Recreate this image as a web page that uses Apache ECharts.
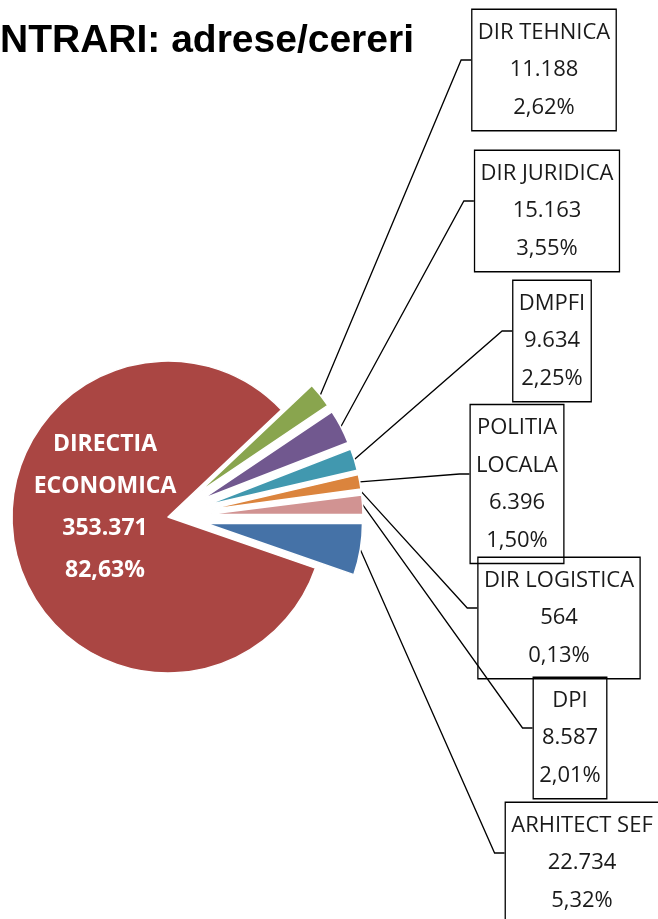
<!DOCTYPE html>
<html>
<head>
<meta charset="UTF-8">
<title>Intrari adrese/cereri</title>
<script src="https://cdn.jsdelivr.net/npm/echarts@6/dist/echarts.min.js"></script>
<style>
body{margin:0;padding:0;background:#fff;}
#main{width:658px;height:919px;}
</style>
</head>
<body>
<div id="main"></div>
<script type="text/javascript">
// date (ordinea din Excel, sens orar)
var names = ['ARHITECT SEF', 'DIRECTIA ECONOMICA', 'DIR TEHNICA', 'DIR JURIDICA', 'DMPFI', 'POLITIA LOCALA', 'DIR LOGISTICA', 'DPI'];
var values = [22734, 353371, 11188, 15163, 9634, 6396, 564, 8587];
var colors = ['#4572A7', '#AA4643', '#89A54E', '#71588F', '#4198AF', '#DB843D', '#93A9CF', '#D19392'];
// centrul fiecarei etichete, asezate manual ca in original
var boxPos = [[582, 863], [105, 507], [544, 70], [547, 211], [552, 341], [517, 484], [559, 618], [570, 738]];

var pieCenter = [168, 517];
var pieRadius = 156;
var explode = 39;

var total = values.reduce(function (s, v) { return s + v; }, 0);

function fmt(n) {
    return String(n).replace(/\B(?=(\d{3})+(?!\d))/g, '.');
}
// procent rotunjit simplu, ca in Excel
function pct(p) {
    return (p.value / total * 100).toFixed(2).replace('.', ',') + '%';
}
function wrapFmt(p) {
    return p.name.split(' ').join('\n') + '\n' + fmt(p.value) + '\n' + pct(p);
}

// felii (cele mici sunt "explodate")
var sliceData = names.map(function (n, i) {
    return { name: n, value: values[i], selected: i !== 1, itemStyle: { color: colors[i] } };
});

// serie invizibila, aceeasi geometrie, doar pentru etichete
var labelData = names.map(function (n, i) {
    var item = { name: n, value: values[i] };
    if (i === 1) {
        item.label = {
            position: 'inside', color: '#fff', fontWeight: 'bold', fontSize: 23, lineHeight: 42,
            borderWidth: 0, padding: 0, formatter: wrapFmt
        };
        item.labelLine = { show: false };
    }
    if (n === 'POLITIA LOCALA') {
        item.label = { formatter: wrapFmt };
    }
    return item;
});

var myChart = echarts.init(document.getElementById('main'));
myChart.setOption({
    animation: false,
    title: {
        text: 'NTRARI: adrese/cereri',
        left: 0,
        top: 22,
        padding: 0,
        textStyle: { fontFamily: 'Liberation Sans', fontWeight: 'bold', fontSize: 39, lineHeight: 39, color: '#000' }
    },
    series: [{
        type: 'pie',
        center: pieCenter,
        radius: pieRadius,
        startAngle: 0,
        clockwise: true,
        selectedMode: 'multiple',
        selectedOffset: explode,
        itemStyle: { borderColor: '#fff', borderWidth: 1.5 },
        emphasis: { scale: false },
        label: { show: false },
        labelLine: { show: false },
        data: sliceData
    }, {
        type: 'pie',
        silent: true,
        center: pieCenter,
        radius: pieRadius,
        startAngle: 0,
        clockwise: true,
        avoidLabelOverlap: false,
        itemStyle: { color: 'rgba(0,0,0,0)', borderWidth: 0 },
        emphasis: { disabled: true },
        label: {
            show: true,
            position: 'outside',
            fontFamily: 'Open Sans',
            fontSize: 22,
            lineHeight: 37.5,
            color: '#1a1a1a',
            align: 'center',
            borderColor: '#000',
            borderWidth: 1.3,
            padding: [6, 6, 3, 6],
            formatter: function (p) {
                return p.name + '\n' + fmt(p.value) + '\n' + pct(p);
            }
        },
        labelLine: { show: true, lineStyle: { color: '#000', width: 1.3 } },
        labelLayout: function (p) {
            var c = boxPos[p.dataIndex];
            if (p.dataIndex === 1) {
                return { x: c[0], y: c[1], align: 'center', verticalAlign: 'middle' };
            }
            // capatul liniei pe arcul feliei deplasate
            var a = p.labelLinePoints[0];
            var vx = a[0] - pieCenter[0], vy = a[1] - pieCenter[1];
            var len = Math.sqrt(vx * vx + vy * vy);
            var start = [a[0] + vx / len * explode, a[1] + vy / len * explode];
            var left = c[0] - p.labelRect.width / 2;
            var ly = c[1] - 10;
            return {
                x: c[0], y: c[1], align: 'center', verticalAlign: 'middle',
                labelLinePoints: [start, [left - 10, ly], [left, ly]]
            };
        },
        data: labelData
    }]
});
</script>
</body>
</html>
